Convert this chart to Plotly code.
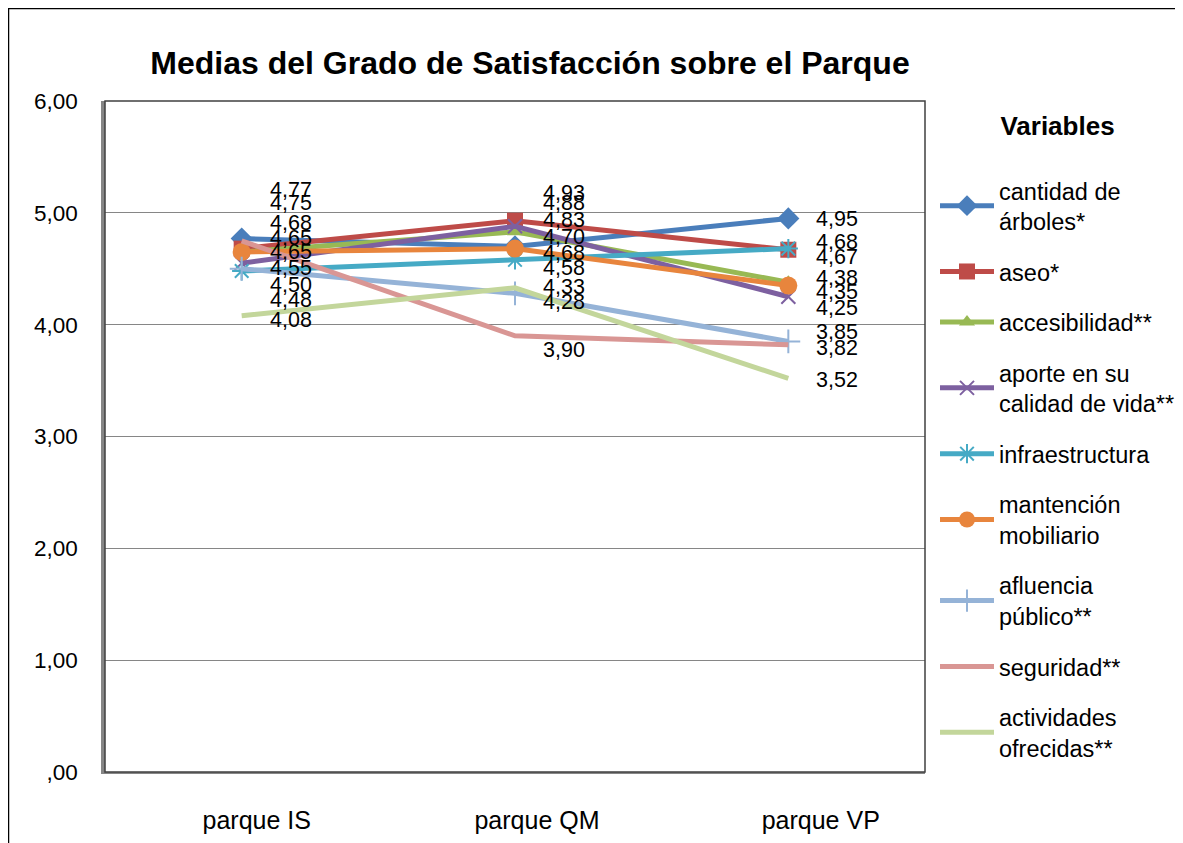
import plotly.graph_objects as go

parks = ["parque IS", "parque QM", "parque VP"]
series_names = [
    "cantidad de<br>árboles*",
    "aseo*",
    "accesibilidad**",
    "aporte en su<br>calidad de vida**",
    "infraestructura",
    "mantención<br>mobiliario",
    "afluencia<br>público**",
    "seguridad**",
    "actividades<br>ofrecidas**",
]
cantidad = [4.77, 4.70, 4.95]
aseo = [4.68, 4.93, 4.67]
accesibilidad = [4.65, 4.83, 4.38]
aporte = [4.55, 4.88, 4.25]
infraestructura = [4.48, 4.58, 4.68]
mantencion = [4.65, 4.68, 4.35]
afluencia = [4.50, 4.28, 3.85]
seguridad = [4.75, 3.90, 3.82]
actividades = [4.08, 4.33, 3.52]
values = [cantidad, aseo, accesibilidad, aporte, infraestructura,
          mantencion, afluencia, seguridad, actividades]

y_tickvals = [0, 1, 2, 3, 4, 5, 6]
y_ticktext = [",00", "1,00", "2,00", "3,00", "4,00", "5,00", "6,00"]

# styles
colors = ["#4A7EBB", "#BE4B48", "#98B954", "#7D60A0", "#46AAC5",
          "#E8853D", "#95B3D7", "#D99694", "#C3D69B"]
symbols = ["diamond", "square", "triangle-up", "x-thin-open", "asterisk-open",
           "circle", "cross-thin-open", None, None]
msizes = [17, 16, 14, 14, 16, 18, 17, 0, 0]
# label vertical offsets (pixels, positive = down) to mimic spread labels
label_dy = [
    [-49, -9, 1],
    [-26, -28, 7],
    [-14, -12, -4],
    [5, -23, 11],
    [29, 8, -7],
    [0, 4, 6],
    [16, 9, -9],
    [-38, 14, 3],
    [4, -1, 2],
]
# padding (non-breaking spaces) to nudge category labels like the original
NB = "\u00a0"
tick_pad_left = [0, 0, 3]
tick_pad_right = [2, 0, 0]

FONT = "Liberation Sans, Arial, sans-serif"
xs = list(range(len(parks)))
x_ticktext = [NB * pl + p + NB * pr for p, pl, pr in zip(parks, tick_pad_left, tick_pad_right)]

fig = go.Figure()
for i, (name, vals) in enumerate(zip(series_names, values)):
    marker = dict(size=msizes[i], color=colors[i])
    mode = "lines"
    if symbols[i] is not None:
        mode = "lines+markers"
        marker["symbol"] = symbols[i]
        if symbols[i].endswith("open"):
            marker["line"] = dict(color=colors[i], width=2)
    fig.add_trace(go.Scatter(
        x=xs, y=vals, name=name, mode=mode,
        line=dict(color=colors[i], width=5),
        marker=marker, legendgroup=f"g{i}",
    ))
    for j, v in enumerate(vals):
        fig.add_annotation(
            x=xs[j], y=v, text=f"{v:.2f}".replace(".", ","),
            showarrow=False, xanchor="left", yanchor="middle",
            xshift=26, yshift=-label_dy[i][j],
            font=dict(family=FONT, size=21.5, color="black"),
        )

# page has an 8px body margin; figure drawn from (8, 8)
W, H = 1175, 835
l, r, t, b = 97, 258, 93, 71
pw, ph = W - l - r, H - t - b
# outer chart border
fig.add_shape(type="rect", xref="paper", yref="paper",
              x0=(0.5 - l) / pw, x1=(W + 20 - l) / pw,
              y0=-(b + 20) / ph, y1=(ph + t - 0.5) / ph,
              line=dict(color="black", width=1.5), fillcolor="rgba(0,0,0,0)",
              layer="below")
# plot-area frame (dark top/right)
fig.add_shape(type="rect", xref="paper", yref="paper",
              x0=0, x1=1, y0=0, y1=1,
              line=dict(color="#404040", width=1.5), fillcolor="rgba(0,0,0,0)",
              layer="above")

fig.update_layout(
    width=W, height=H,
    margin=dict(l=l, r=r, t=t, b=b, autoexpand=False),
    paper_bgcolor="white", plot_bgcolor="white",
    font=dict(family=FONT, size=19, color="black"),
    title=dict(text="<b>Medias del Grado de Satisfacción sobre el Parque</b>",
               x=522 / W, xanchor="center", y=1 - 55 / H, yanchor="middle",
               font=dict(family=FONT, size=32, color="black")),
    showlegend=True,
    legend=dict(
        title=dict(text="<b>Variables</b><br> ", side="top center",
                   font=dict(family=FONT, size=26, color="black")),
        x=(927 - l) / pw, xanchor="left", y=1.0, yanchor="top",
        font=dict(family=FONT, size=23.5, color="black"),
        tracegroupgap=17, itemwidth=54, maxheight=820,
        bgcolor="rgba(0,0,0,0)",
    ),
    xaxis=dict(
        range=[-0.5, 2.5], tickvals=xs, ticktext=x_ticktext,
        showgrid=False, zeroline=False,
        showline=True, linecolor="#868686", linewidth=2,
        ticks="", ticklabelshift=22, ticklabelstandoff=25,
        tickfont=dict(family=FONT, size=25, color="black"),
    ),
    yaxis=dict(
        range=[0, 6], tickvals=y_tickvals, ticktext=y_ticktext,
        showgrid=True, gridcolor="#868686", gridwidth=1.2, zeroline=False,
        showline=True, linecolor="#868686", linewidth=3.5,
        ticks="outside", ticklen=19, tickcolor="rgba(0,0,0,0)",
        tickfont=dict(family=FONT, size=22.5, color="black"),
    ),
)

fig.write_html("out.html")
